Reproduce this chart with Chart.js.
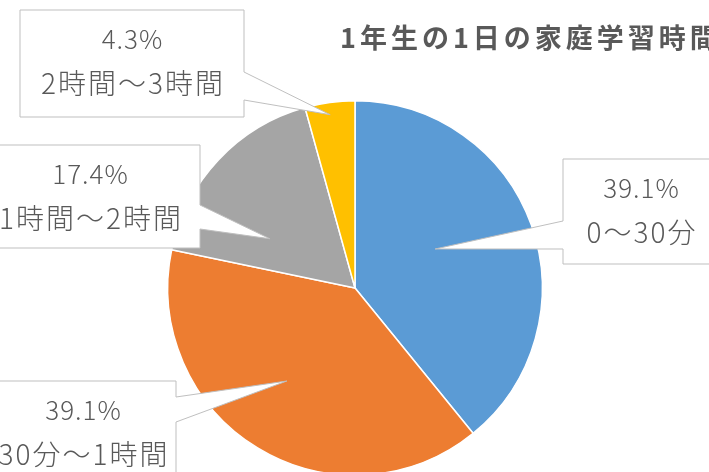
<!DOCTYPE html>
<html>
<head>
<meta charset="utf-8">
<script src="https://cdn.jsdelivr.net/npm/chart.js@4"></script>
<style>
  html, body { margin: 0; padding: 0; background: #fff; overflow: hidden; }
  #wrap { position: absolute; left: 0; top: 0; width: 709px; height: 480px; }
</style>
</head>
<body>
<div id="wrap"><canvas id="c" width="709" height="480"></canvas></div>
<script>
// ---- data ----
const titleText = '1年生の1日の家庭学習時間';
const categories = ['0〜30分', '30分〜1時間', '1時間〜2時間', '2時間〜3時間'];
const percentValues = [39.1, 39.1, 17.4, 4.3];
const sliceColors = ['#5B9BD5', '#ED7D31', '#A5A5A5', '#FFC000'];

// ---- callout layout (box rectangle, pointer side, pointer base, tip relative to slice) ----
const calloutBoxes = [
  { l: 563, t: 159, r: 719, b: 264, side: 'left',  y1: 221, y2: 249, dAng: -6.4,  frac: 0.476 },
  { l: -10, t: 381, r: 176, b: 486, side: 'right', y1: 397, y2: 422, dAng: 4.9,   frac: 0.616 },
  { l: -20, t: 145, r: 200, b: 248, side: 'right', y1: 205, y2: 229, dAng: -13.1, frac: 0.525 },
  { l: 20,  t: 10,  r: 244, b: 117, side: 'right', y1: 72,  y2: 100, dAng: -0.4,  frac: 0.935 }
];

const FONT = '"Noto Sans CJK JP", "Noto Sans", sans-serif';

const calloutPlugin = {
  id: 'callouts',
  afterDatasetsDraw(chart) {
    const ctx = chart.ctx;
    const meta = chart.getDatasetMeta(0);
    const total = percentValues.reduce((a, b) => a + b, 0);
    meta.data.forEach((arc, i) => {
      const L = calloutBoxes[i];
      const p = arc.getProps(['x', 'y', 'startAngle', 'endAngle', 'outerRadius'], true);
      const mid = (p.startAngle + p.endAngle) / 2 + L.dAng * Math.PI / 180;
      const tx = p.x + Math.cos(mid) * p.outerRadius * L.frac;
      const ty = p.y + Math.sin(mid) * p.outerRadius * L.frac;
      ctx.save();
      ctx.beginPath();
      if (L.side === 'right') {
        ctx.moveTo(L.l, L.t);
        ctx.lineTo(L.r, L.t);
        ctx.lineTo(L.r, L.y1);
        ctx.lineTo(tx, ty);
        ctx.lineTo(L.r, L.y2);
        ctx.lineTo(L.r, L.b);
        ctx.lineTo(L.l, L.b);
      } else {
        ctx.moveTo(L.l, L.t);
        ctx.lineTo(L.r, L.t);
        ctx.lineTo(L.r, L.b);
        ctx.lineTo(L.l, L.b);
        ctx.lineTo(L.l, L.y2);
        ctx.lineTo(tx, ty);
        ctx.lineTo(L.l, L.y1);
      }
      ctx.closePath();
      ctx.fillStyle = '#FFFFFF';
      ctx.fill();
      ctx.lineWidth = 1;
      ctx.strokeStyle = '#BFBFBF';
      ctx.stroke();

      const cx = (L.l + L.r) / 2;
      ctx.fillStyle = '#595959';
      ctx.textAlign = 'center';
      ctx.textBaseline = 'middle';
      const pct = (percentValues[i] / total * 100).toFixed(1) + '%';
      ctx.font = '300 26px ' + FONT;
      ctx.letterSpacing = '1px';
      ctx.fillText(pct, cx + 0.5, L.t + 29);
      ctx.font = '300 28px ' + FONT;
      ctx.letterSpacing = '2px';
      ctx.fillText(categories[i], cx + 1, L.t + 73);
      ctx.restore();
    });

    // title
    ctx.save();
    ctx.fillStyle = '#595959';
    ctx.textAlign = 'left';
    ctx.textBaseline = 'middle';
    ctx.font = '700 27px ' + FONT;
    ctx.letterSpacing = '4px';
    ctx.fillText(titleText, 340, 38);
    ctx.restore();
  }
};

new Chart(document.getElementById('c'), {
  type: 'pie',
  data: {
    labels: categories,
    datasets: [{
      data: percentValues,
      backgroundColor: sliceColors,
      borderColor: '#FFFFFF',
      borderWidth: 1.5
    }]
  },
  options: {
    responsive: false,
    animation: false,
    layout: { padding: { left: 167, right: 166, top: 100, bottom: 4 } },
    plugins: {
      legend: { display: false },
      tooltip: { enabled: false },
      title: { display: false }
    }
  },
  plugins: [calloutPlugin]
});
</script>
</body>
</html>
